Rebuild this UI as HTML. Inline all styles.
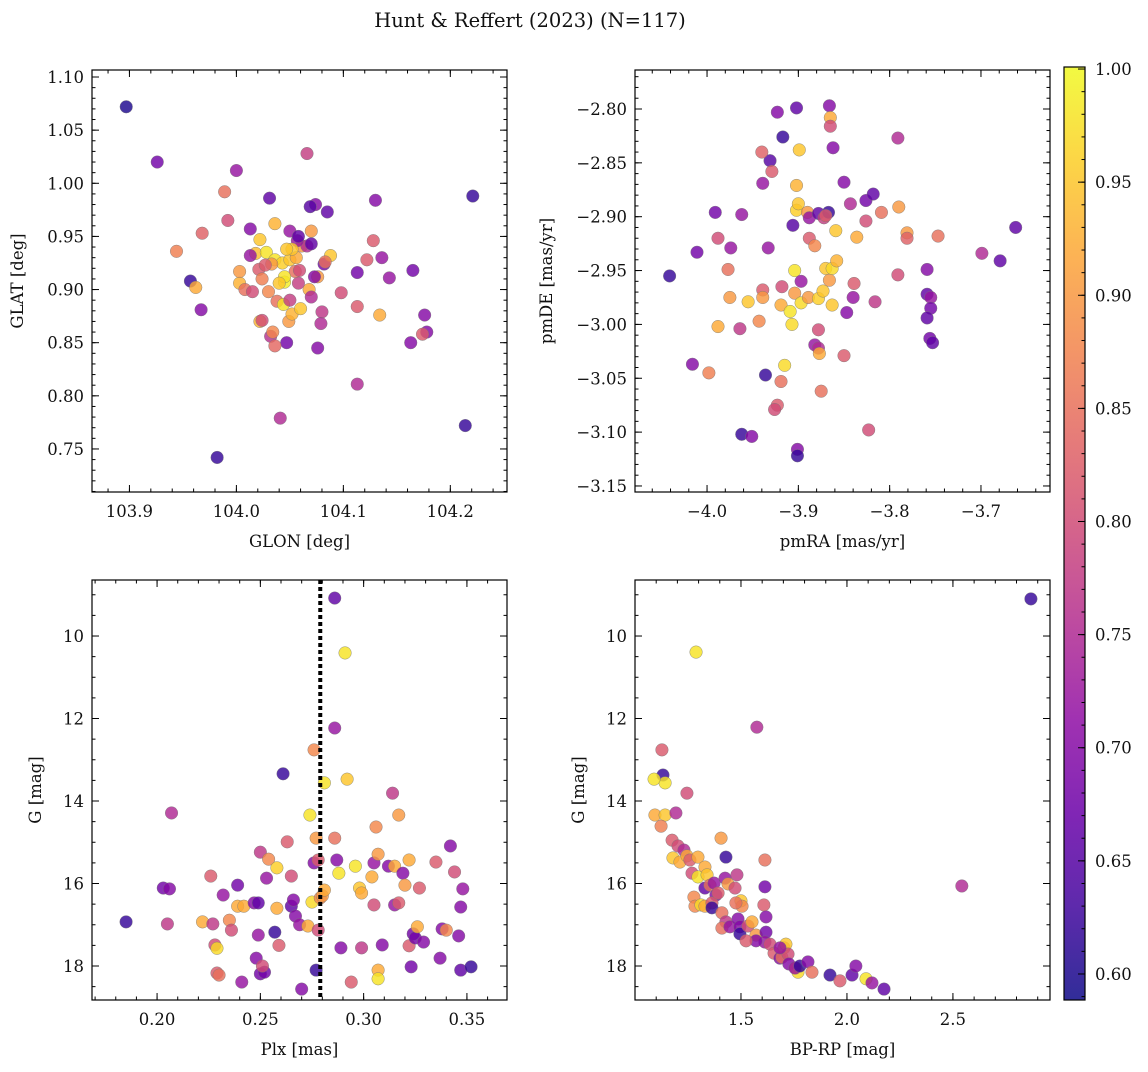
<!DOCTYPE html>
<html><head><meta charset="utf-8"><style>
body{margin:0;background:#fff}
svg text{font-family:"DejaVu Serif","Liberation Serif",serif;fill:#111}
</style></head><body>
<svg id="fig" width="1148" height="1067" xmlns="http://www.w3.org/2000/svg">
<text x="530" y="27" font-size="19.5" text-anchor="middle">Hunt &amp; Reffert (2023) (N=117)</text>
</svg>
<script>
// ---- data ----
const posGlon=[103.897,103.926,103.944,103.957,103.962,103.967,103.968,103.982,103.989,103.992,104.000,104.031,104.066,104.074,104.069,104.085,104.130,104.221,104.128,104.136,104.143,104.122,104.113,104.165,104.176,104.178,104.174,104.163,104.134,104.113,104.098,104.080,104.079,104.076,104.113,104.041,104.214,104.047,104.032,104.034,104.036,104.022,104.024,104.049,104.052,104.060,104.038,104.044,104.050,104.050,104.036,104.022,104.013,104.018,104.013,104.003,104.003,104.008,104.015,104.021,104.028,104.036,104.043,104.050,104.056,104.061,104.070,104.066,104.070,104.082,104.088,104.083,104.076,104.073,104.068,104.070,104.058,104.055,104.045,104.045,104.040,104.033,104.027,104.024,104.030,104.057,104.058,104.052,104.059,104.047];
const posGlat=[1.072,1.020,0.936,0.908,0.902,0.881,0.953,0.742,0.992,0.965,1.012,0.986,1.028,0.980,0.978,0.973,0.984,0.988,0.946,0.930,0.911,0.928,0.916,0.918,0.876,0.860,0.858,0.850,0.876,0.884,0.897,0.879,0.868,0.845,0.811,0.779,0.772,0.850,0.856,0.860,0.847,0.870,0.871,0.870,0.877,0.882,0.889,0.886,0.890,0.955,0.962,0.947,0.957,0.934,0.932,0.906,0.917,0.900,0.898,0.919,0.935,0.928,0.925,0.928,0.930,0.941,0.955,0.941,0.943,0.924,0.932,0.926,0.912,0.912,0.900,0.893,0.906,0.917,0.907,0.912,0.906,0.924,0.923,0.910,0.898,0.946,0.950,0.938,0.918,0.938];
const posProb=[0.60,0.68,0.87,0.62,0.92,0.70,0.83,0.62,0.85,0.80,0.72,0.66,0.78,0.70,0.65,0.66,0.70,0.62,0.82,0.72,0.72,0.82,0.68,0.68,0.70,0.70,0.82,0.70,0.92,0.82,0.80,0.77,0.75,0.70,0.75,0.75,0.62,0.68,0.76,0.88,0.84,0.93,0.80,0.90,0.93,0.95,0.85,0.98,0.78,0.72,0.93,0.95,0.70,0.94,0.72,0.93,0.90,0.85,0.80,0.82,0.98,0.98,0.96,0.95,0.92,0.90,0.90,0.75,0.66,0.68,0.95,0.85,0.90,0.70,0.92,0.75,0.78,0.85,0.99,0.98,0.95,0.90,0.82,0.87,0.88,0.72,0.66,0.95,0.80,0.95];

const pmRA=[-4.041,-4.011,-3.991,-3.988,-3.977,-3.974,-3.962,-3.975,-3.955,-3.964,-3.988,-4.016,-3.998,-3.962,-3.951,-3.923,-3.902,-3.917,-3.931,-3.940,-3.929,-3.939,-3.933,-3.939,-3.939,-3.943,-3.919,-3.918,-3.902,-3.899,-3.906,-3.902,-3.900,-3.890,-3.904,-3.897,-3.904,-3.897,-3.909,-3.907,-3.915,-3.919,-3.923,-3.936,-3.926,-3.901,-3.901,-3.888,-3.888,-3.882,-3.878,-3.872,-3.867,-3.870,-3.889,-3.878,-3.873,-3.866,-3.870,-3.863,-3.859,-3.858,-3.863,-3.878,-3.882,-3.878,-3.877,-3.875,-3.866,-3.865,-3.865,-3.862,-3.850,-3.843,-3.836,-3.839,-3.840,-3.847,-3.850,-3.826,-3.818,-3.826,-3.809,-3.816,-3.823,-3.791,-3.790,-3.781,-3.781,-3.791,-3.747,-3.759,-3.759,-3.755,-3.755,-3.759,-3.756,-3.753,-3.699,-3.679,-3.662];
const pmDE=[-2.955,-2.933,-2.896,-2.920,-2.949,-2.929,-2.898,-2.975,-2.979,-3.004,-3.002,-3.037,-3.045,-3.102,-3.104,-2.803,-2.799,-2.826,-2.848,-2.840,-2.858,-2.869,-2.929,-2.968,-2.975,-2.997,-2.982,-2.965,-2.871,-2.838,-2.908,-2.894,-2.888,-2.896,-2.950,-2.960,-2.971,-2.980,-2.988,-3.000,-3.038,-3.053,-3.075,-3.047,-3.079,-3.116,-3.122,-2.920,-2.901,-2.927,-2.897,-2.901,-2.896,-2.899,-2.975,-2.976,-2.969,-2.959,-2.948,-2.948,-2.913,-2.941,-2.982,-3.005,-3.019,-3.022,-3.027,-3.062,-2.797,-2.808,-2.816,-2.836,-2.868,-2.888,-2.919,-2.962,-2.975,-2.989,-3.029,-2.885,-2.879,-2.904,-2.896,-2.979,-3.098,-2.827,-2.891,-2.915,-2.920,-2.954,-2.918,-2.949,-2.972,-2.975,-2.985,-2.994,-3.013,-3.017,-2.934,-2.941,-2.910];
const pmProb=[0.62,0.68,0.68,0.80,0.85,0.72,0.72,0.90,0.95,0.77,0.92,0.70,0.87,0.62,0.70,0.70,0.66,0.62,0.65,0.83,0.82,0.72,0.72,0.82,0.90,0.88,0.92,0.80,0.93,0.95,0.65,0.96,0.95,0.90,0.98,0.72,0.90,0.97,0.98,0.97,0.97,0.85,0.82,0.62,0.80,0.70,0.62,0.82,0.72,0.88,0.66,0.78,0.62,0.82,0.90,0.96,0.95,0.90,0.95,0.97,0.95,0.93,0.95,0.80,0.72,0.75,0.92,0.85,0.70,0.92,0.80,0.70,0.70,0.75,0.92,0.82,0.72,0.70,0.82,0.68,0.66,0.80,0.85,0.77,0.80,0.75,0.90,0.90,0.83,0.80,0.85,0.70,0.66,0.72,0.68,0.66,0.68,0.66,0.75,0.66,0.66];

const plx=[0.185,0.203,0.206,0.205,0.207,0.222,0.226,0.227,0.228,0.229,0.230,0.229,0.232,0.235,0.236,0.239,0.239,0.241,0.242,0.247,0.249,0.248,0.249,0.250,0.252,0.251,0.250,0.253,0.254,0.257,0.258,0.258,0.259,0.261,0.263,0.265,0.265,0.266,0.267,0.269,0.270,0.273,0.274,0.275,0.276,0.276,0.277,0.277,0.278,0.278,0.279,0.280,0.281,0.281,0.286,0.286,0.287,0.286,0.288,0.289,0.291,0.292,0.294,0.296,0.298,0.299,0.299,0.304,0.305,0.306,0.305,0.307,0.307,0.307,0.309,0.312,0.314,0.315,0.315,0.317,0.317,0.319,0.320,0.322,0.322,0.323,0.324,0.325,0.326,0.327,0.329,0.335,0.337,0.338,0.340,0.342,0.344,0.347,0.346,0.347,0.348,0.352];
const plxG=[16.93,16.11,16.13,16.98,14.29,16.93,15.82,16.98,17.49,18.17,18.22,17.57,16.28,16.89,17.13,16.04,16.55,18.39,16.55,16.47,16.47,17.81,17.25,18.19,18.15,18.00,15.24,15.87,15.41,17.18,16.60,15.62,17.50,13.34,14.99,15.82,16.55,16.40,16.79,17.00,18.56,17.03,14.34,16.45,15.50,12.76,18.10,14.90,15.43,17.13,16.35,16.30,16.16,13.56,9.08,12.23,15.43,14.90,15.75,17.56,10.41,13.47,18.39,15.58,16.11,16.23,17.56,15.84,15.50,14.63,16.52,18.10,18.31,15.29,17.49,15.58,13.81,15.58,16.52,14.34,16.47,15.75,16.04,15.43,17.51,18.02,17.22,17.32,17.05,16.11,17.42,15.48,17.81,17.10,17.13,15.09,15.72,18.10,17.27,16.57,16.13,18.02];
const plxProb=[0.62,0.68,0.70,0.77,0.75,0.92,0.82,0.77,0.80,0.82,0.85,0.97,0.72,0.88,0.80,0.68,0.92,0.72,0.92,0.70,0.66,0.70,0.72,0.68,0.68,0.80,0.77,0.72,0.88,0.62,0.92,0.96,0.82,0.62,0.82,0.80,0.66,0.70,0.70,0.72,0.70,0.92,0.98,0.97,0.70,0.88,0.62,0.90,0.82,0.80,0.88,0.90,0.92,0.98,0.66,0.72,0.70,0.85,0.98,0.70,0.98,0.95,0.82,0.98,0.95,0.92,0.77,0.92,0.72,0.88,0.80,0.92,0.98,0.90,0.70,0.70,0.77,0.92,0.72,0.90,0.82,0.70,0.90,0.92,0.82,0.68,0.68,0.68,0.92,0.82,0.70,0.82,0.70,0.70,0.88,0.70,0.80,0.66,0.70,0.70,0.72,0.62];
const plxCut=[0.279];

const bprp=[2.868,1.288,2.542,1.575,1.127,1.132,1.142,1.090,1.094,1.142,1.193,1.245,1.123,1.175,1.203,1.231,1.179,1.212,1.245,1.259,1.297,1.429,1.406,1.613,1.613,1.269,1.297,1.330,1.340,1.330,1.354,1.373,1.382,1.278,1.283,1.311,1.330,1.363,1.363,1.392,1.425,1.439,1.472,1.481,1.500,1.505,1.476,1.410,1.429,1.410,1.448,1.486,1.495,1.495,1.533,1.552,1.571,1.608,1.618,1.618,1.613,1.637,1.656,1.684,1.693,1.703,1.712,1.722,1.726,1.759,1.769,1.755,1.778,1.816,1.835,1.920,1.967,2.024,2.042,2.090,2.118,2.175,1.571,1.524,1.684];
const cmdG=[9.10,10.39,16.06,12.21,12.76,13.37,13.56,13.47,14.34,14.34,14.29,13.81,14.61,14.95,15.09,15.19,15.38,15.48,15.33,15.43,15.36,15.36,14.90,15.43,16.08,15.75,15.84,15.60,15.79,16.11,16.04,15.99,16.28,16.33,16.55,16.52,16.55,16.47,16.59,16.23,15.87,16.01,16.11,15.79,16.42,16.55,16.47,16.71,16.93,17.08,17.05,16.86,17.05,17.22,17.03,16.93,17.25,16.52,17.18,16.81,17.42,17.47,17.69,17.81,17.79,17.56,17.47,17.71,17.95,18.05,18.15,18.05,18.00,17.90,18.15,18.22,18.36,18.22,18.00,18.31,18.41,18.56,17.39,17.39,17.56];
const cmdProb=[0.62,0.98,0.75,0.75,0.82,0.62,0.98,0.98,0.92,0.95,0.75,0.80,0.87,0.82,0.80,0.75,0.95,0.92,0.92,0.82,0.92,0.62,0.90,0.85,0.68,0.80,0.98,0.92,0.95,0.66,0.85,0.72,0.70,0.88,0.88,0.97,0.92,0.82,0.62,0.82,0.72,0.90,0.80,0.77,0.95,0.88,0.85,0.85,0.77,0.85,0.72,0.70,0.70,0.62,0.80,0.92,0.90,0.82,0.68,0.70,0.72,0.80,0.82,0.70,0.85,0.88,0.95,0.80,0.70,0.90,0.97,0.72,0.62,0.70,0.85,0.62,0.82,0.66,0.70,0.98,0.72,0.66,0.70,0.82,0.72];

const cbTicks=[0.60,0.65,0.70,0.75,0.80,0.85,0.90,0.95,1.00];
const glonTicks=[103.9,104.0,104.1,104.2];
const glatTicks=[0.75,0.80,0.85,0.90,0.95,1.00,1.05,1.10];
const pmraTicks=[-4.0,-3.9,-3.8,-3.7];
const pmdeTicks=[-3.15,-3.10,-3.05,-3.00,-2.95,-2.90,-2.85,-2.80];
const plxTicks=[0.20,0.25,0.30,0.35];
const gTicks=[10,12,14,16,18];
const bprpTicks=[1.5,2.0,2.5];

// ---- rendering ----
const NS="http://www.w3.org/2000/svg";
const svg=document.getElementById('fig');
const CMIN=0.5885,CMAX=1.0009;
const stops=["#0d0887","#41049d","#6a00a8","#8f0da4","#b12a90","#cc4778","#e16462","#f2844b","#fca636","#fcce25","#f0f921"];
function hex(h){return [1,3,5].map(i=>parseInt(h.substr(i,2),16));}
function plasma(t){t=Math.max(0,Math.min(1,t));const f=t*10,i=Math.min(9,Math.floor(f)),u=f-i;const a=hex(stops[i]),b=hex(stops[i+1]);return `rgb(${a.map((v,k)=>Math.round(v+(b[k]-v)*u)).join(',')})`;}
function el(tag,attrs,parent){const e=document.createElementNS(NS,tag);for(const k in attrs)e.setAttribute(k,attrs[k]);(parent||svg).appendChild(e);return e;}
function fmt(v,d){return v.toFixed(d).replace('-','\u2212');}
const TFS=16.5;

function panel(o){
  const g=el('g',{});
  
  
  const sx=v=>o.x0+(v-o.xmin)/(o.xmax-o.xmin)*(o.x1-o.x0);
  const sy=v=>o.y1-(v-o.ymin)/(o.ymax-o.ymin)*(o.y1-o.y0);
  const syy=o.invert?(v=>o.y0+(v-o.ymin)/(o.ymax-o.ymin)*(o.y1-o.y0)):sy;
  for(let i=0;i<o.xs.length;i++){
    const c=el('circle',{cx:sx(o.xs[i]),cy:syy(o.ys[i]),r:6.3,fill:plasma((o.cs[i]-CMIN)/(CMAX-CMIN)),'fill-opacity':0.82,stroke:'#777','stroke-width':0.4},g);
    
    
  }
  if(o.vline){for(const v of o.vline){const l=el('line',{x1:sx(v),x2:sx(v),y1:o.y0,y2:o.y1,stroke:'#000','stroke-width':4,'stroke-dasharray':'4 3'},g);}}
  const tk=(x1,y1,x2,y2)=>el('line',{x1,y1,x2,y2,stroke:'#000','stroke-width':1},g);
  for(let v=Math.ceil(o.xmin/o.xminor)*o.xminor;v<=o.xmax;v+=o.xminor){const X=sx(v);tk(X,o.y1,X,o.y1-3.5);tk(X,o.y0,X,o.y0+3.5);}
  for(let v=Math.ceil(o.ymin/o.yminor)*o.yminor;v<=o.ymax;v+=o.yminor){const Y=syy(v);tk(o.x0,Y,o.x0+3.5,Y);tk(o.x1,Y,o.x1-3.5,Y);}
  for(const v of o.xt){const X=sx(v);tk(X,o.y1,X,o.y1-7);tk(X,o.y0,X,o.y0+7);
    const t=el('text',{x:X,y:o.y1+25,'font-size':TFS,'text-anchor':'middle'},g);t.textContent=fmt(v,o.xd);}
  for(const v of o.yt){const Y=syy(v);tk(o.x0,Y,o.x0+7,Y);tk(o.x1,Y,o.x1-7,Y);
    const t=el('text',{x:o.x0-8,y:Y+6,'font-size':TFS,'text-anchor':'end'},g);t.textContent=fmt(v,o.yd);}
  const fr=el('rect',{x:o.x0,y:o.y0,width:o.x1-o.x0,height:o.y1-o.y0,fill:'none',stroke:'#000','stroke-width':1.2},g);
  
  const xl=el('text',{x:(o.x0+o.x1)/2,y:o.y1+55,'font-size':TFS,'text-anchor':'middle'},g);xl.textContent=o.xlabel;
  
  const yx=o.ylx,yy=(o.y0+o.y1)/2;
  const yl=el('text',{x:yx,y:yy,'font-size':TFS,'text-anchor':'middle',transform:`rotate(-90 ${yx} ${yy})`},g);yl.textContent=o.ylabel;
  
}

panel({name:'glon-glat-panel',x0:92,x1:507,y0:70,y1:492,xmin:103.865,xmax:104.253,ymin:0.7095,ymax:1.1066,xs:posGlon,ys:posGlat,cs:posProb,xt:glonTicks,yt:glatTicks,xd:1,yd:2,xminor:0.02,yminor:0.01,xlabel:'GLON [deg]',ylabel:'GLAT [deg]',ylx:23});
panel({name:'proper-motion-panel',x0:635,x1:1050,y0:70,y1:492,xmin:-4.0789,xmax:-3.6244,ymin:-3.1556,ymax:-2.7638,xs:pmRA,ys:pmDE,cs:pmProb,xt:pmraTicks,yt:pmdeTicks,xd:1,yd:2,xminor:0.02,yminor:0.01,xlabel:'pmRA [mas/yr]',ylabel:'pmDE [mas/yr]',ylx:552});
panel({name:'parallax-panel',x0:92,x1:507,y0:580,y1:1000,xmin:0.1685,xmax:0.3694,ymin:8.642,ymax:18.824,invert:true,xs:plx,ys:plxG,cs:plxProb,xt:plxTicks,yt:gTicks,xd:2,yd:0,xminor:0.01,yminor:0.5,xlabel:'Plx [mas]',ylabel:'G [mag]',ylx:41,vline:plxCut});
panel({name:'cmd-panel',x0:635,x1:1050,y0:580,y1:1000,xmin:1.0,xmax:2.958,ymin:8.642,ymax:18.824,invert:true,xs:bprp,ys:cmdG,cs:cmdProb,xt:bprpTicks,yt:gTicks,xd:1,yd:0,xminor:0.1,yminor:0.5,xlabel:'BP-RP [mag]',ylabel:'G [mag]',ylx:584});

// colorbar
const cb=el('g',{});


const defs=el('defs',{},cb);
const lg=el('linearGradient',{id:'cbg',x1:0,y1:1,x2:0,y2:0},defs);
for(let i=0;i<=20;i++){el('stop',{offset:i/20,'stop-color':plasma(i/20),'stop-opacity':0.85},lg);}
const CY0=67,CY1=1000,CX0=1064,CX1=1085;
el('rect',{x:CX0,y:CY0,width:CX1-CX0,height:CY1-CY0,fill:'url(#cbg)',stroke:'#000','stroke-width':1.2},cb);
const cy=v=>CY1-(v-CMIN)/(CMAX-CMIN)*(CY1-CY0);
for(let v=0.59;v<=1.0;v+=0.01){el('line',{x1:CX1,x2:CX1-3.5,y1:cy(v),y2:cy(v),stroke:'#000','stroke-width':1},cb);}
for(const v of cbTicks){el('line',{x1:CX1,x2:CX1-7,y1:cy(v),y2:cy(v),stroke:'#000','stroke-width':1},cb);
  const t=el('text',{x:1095,y:cy(v)+6,'font-size':TFS},cb);t.textContent=v.toFixed(2);
  
  }
</script>
</body></html>
